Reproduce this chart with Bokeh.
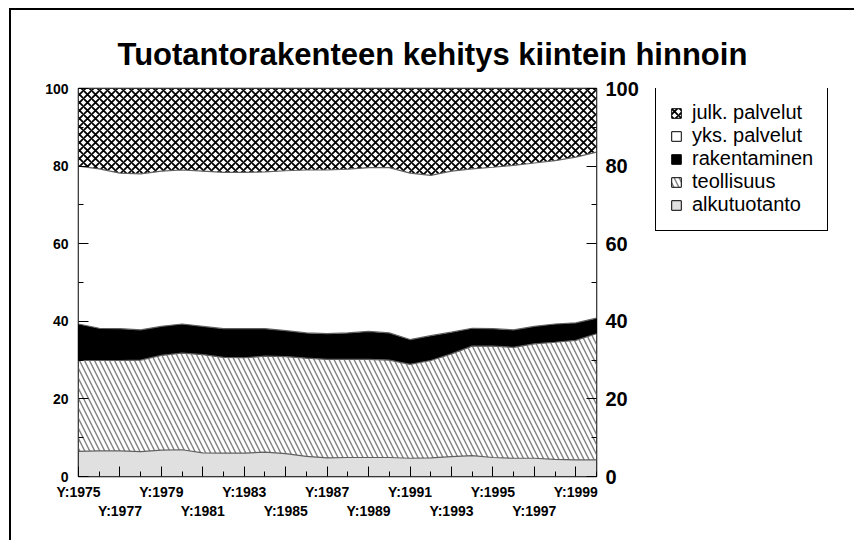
import numpy as np
from bokeh.plotting import figure
from bokeh.layouts import row
from bokeh.models import (Range1d, LinearAxis, FixedTicker, Legend, LegendItem,
                          ColumnDataSource)
from bokeh.transform import stack
from bokeh.embed import file_html
from bokeh.resources import INLINE

years = list(range(1975, 2001))
alkutuotanto = [6.5, 6.6, 6.6, 6.4, 6.8, 6.9, 6.1, 6.0, 6.0, 6.3, 5.9, 5.2, 4.8,
                4.9, 4.9, 4.9, 4.7, 4.8, 5.1, 5.4, 4.9, 4.7, 4.7, 4.4, 4.3, 4.3]
teollisuus = [23.4, 23.3, 23.3, 23.6, 24.4, 24.9, 25.3, 24.7, 24.6, 24.7, 25.0, 25.3, 25.4,
              25.3, 25.3, 25.1, 24.2, 25.1, 26.5, 28.2, 28.7, 28.6, 29.5, 30.2, 30.8, 32.5]
rakentaminen = [9.4, 8.3, 8.2, 7.8, 7.5, 7.5, 7.3, 7.4, 7.5, 7.1, 6.7, 6.5, 6.6,
                6.8, 7.2, 7.0, 6.4, 6.4, 5.6, 4.6, 4.5, 4.5, 4.5, 4.7, 4.5, 4.0]
yks_palvelut = [40.7, 41.1, 40.1, 40.2, 40.0, 39.7, 40.0, 40.3, 40.3, 40.4, 41.2, 42.0, 42.2,
                42.2, 42.2, 42.6, 42.9, 41.3, 41.5, 41.1, 41.6, 42.4, 42.1, 42.1, 42.7, 42.8]
julk_palvelut = [20.0, 20.7, 21.8, 22.0, 21.3, 21.0, 21.3, 21.6, 21.6, 21.5, 21.2, 21.0, 21.0,
                 20.8, 20.4, 20.4, 21.8, 22.4, 21.3, 20.7, 20.3, 19.8, 19.2, 18.6, 17.7, 16.4]

series_labels = ["alkutuotanto", "teollisuus", "rakentaminen", "yks. palvelut", "julk. palvelut"]
title_text = "Tuotantorakenteen kehitys kiintein hinnoin"
x_tick_years = list(range(1975, 2000, 2))
x_minor_years = list(range(1976, 2001, 2))
y_ticks = [0, 20, 40, 60, 80, 100]
y_minor = [10, 30, 50, 70, 90]

FONT = "Liberation Sans"

src = ColumnDataSource(dict(year=years, s0=alkutuotanto, s1=teollisuus, s2=rakentaminen,
                            s3=yks_palvelut, s4=julk_palvelut))
names = ["s0", "s1", "s2", "s3", "s4"]

p = figure(width=845, height=532, output_backend="svg", toolbar_location=None,
           x_range=Range1d(1975, 2000), y_range=Range1d(0, 100),
           x_axis_location=None, y_axis_location=None,
           frame_width=518, frame_height=388,
           min_border_left=67, min_border_right=260, min_border_top=78, min_border_bottom=66)
p.grid.visible = False
p.outline_line_color = "black"
p.outline_line_width = 1.5

styles = [
    dict(fill_color="#e0e0e0"),
    dict(fill_color="white", hatch_pattern="left_diagonal_line", hatch_color="#808080",
         hatch_scale=10, hatch_weight=1.4),
    dict(fill_color="black"),
    dict(fill_color="white"),
    dict(fill_color="white", hatch_pattern="diagonal_cross", hatch_color="black",
         hatch_scale=8, hatch_weight=1.8),
]

for i, nm in enumerate(names):
    y1 = stack(*names[:i]) if i > 0 else 0
    p.varea(x="year", y1=y1, y2=stack(*names[:i + 1]), source=src, **styles[i])

for i in range(1, 5):
    p.line(x="year", y=stack(*names[:i]), source=src, line_color="#606060", line_width=1.2)

# axes
left = LinearAxis(ticker=FixedTicker(ticks=y_ticks, minor_ticks=y_minor))
right = LinearAxis(ticker=FixedTicker(ticks=y_ticks, minor_ticks=y_minor))
for ax, fs, so in ((left, "14px", 10), (right, "20px", 9)):
    ax.major_tick_in = 10
    ax.major_tick_out = 0
    ax.minor_tick_in = 5
    ax.minor_tick_out = 0
    ax.axis_line_color = None
    ax.major_tick_line_color = "black"
    ax.minor_tick_line_color = "black"
    ax.major_label_text_font = FONT
    ax.major_label_text_font_style = "bold"
    ax.major_label_text_font_size = fs
    ax.major_label_text_color = "black"
    ax.major_label_standoff = so
p.add_layout(left, "left")
p.add_layout(right, "right")

b1 = LinearAxis(ticker=FixedTicker(ticks=x_tick_years, minor_ticks=x_minor_years))
b1.major_label_overrides = {y: (f"Y:{y}" if (y - 1975) % 4 == 0 else "") for y in x_tick_years}
b2 = LinearAxis(ticker=FixedTicker(ticks=[y for y in x_tick_years if (y - 1975) % 4 == 2]))
b2.major_label_overrides = {y: f"Y:{y}" for y in x_tick_years if (y - 1975) % 4 == 2}
for ax in (b1, b2):
    ax.axis_line_color = None
    ax.major_label_text_font = FONT
    ax.major_label_text_font_style = "bold"
    ax.major_label_text_font_size = "14px"
    ax.major_label_text_color = "black"
b1.major_tick_in = 10
b1.major_tick_out = 0
b1.minor_tick_in = 5
b1.minor_tick_out = 0
b1.major_tick_line_color = "black"
b1.minor_tick_line_color = "black"
b1.major_label_standoff = 7
b2.major_tick_line_color = None
b2.minor_tick_line_color = None
b2.major_tick_in = 0
b2.major_tick_out = 0
b2.major_label_standoff = 0
p.add_layout(b1, "below")
p.add_layout(b2, "below")

p.title.text = title_text
p.title.text_font = FONT
p.title.text_font_style = "bold"
p.title.text_font_size = "31px"
p.title.text_color = "black"
p.title.align = "left"
p.title.offset = 39
p.title.standoff = 33

# legend panel, overlaid on the empty right margin of the main figure
q = figure(width=202, height=532, output_backend="svg", toolbar_location=None,
           x_range=Range1d(0, 1), y_range=Range1d(0, 1),
           x_axis_location=None, y_axis_location=None,
           min_border_left=0, min_border_right=0, min_border_top=0, min_border_bottom=0)
q.grid.visible = False
q.outline_line_color = None
q.background_fill_color = None
q.border_fill_color = None
q.styles = {"margin-left": "-202px"}

items = []
for i in range(4, -1, -1):
    r = q.quad(left=[np.nan], right=[np.nan], top=[np.nan], bottom=[np.nan],
               line_color="black", line_width=1, **styles[i])
    items.append(LegendItem(label=series_labels[i], renderers=[r]))

legend = Legend(items=items, location=(1, 245))
legend.label_text_font = FONT
legend.label_text_font_size = "20px"
legend.label_text_color = "black"
legend.glyph_width = 12
legend.glyph_height = 12
legend.label_height = 20
legend.spacing = 0
legend.padding = 14
legend.margin = 0
legend.label_standoff = 10
legend.border_line_color = "black"
legend.border_line_alpha = 1
legend.border_line_width = 1
q.add_layout(legend, "center")

layout = row(p, q)
layout.spacing = 0
layout.styles = {"margin-left": "9px", "margin-top": "8px", "overflow": "hidden",
                 "border-left": "2px solid black", "border-top": "2px solid black"}

open("out.html", "w").write(file_html(layout, INLINE))
